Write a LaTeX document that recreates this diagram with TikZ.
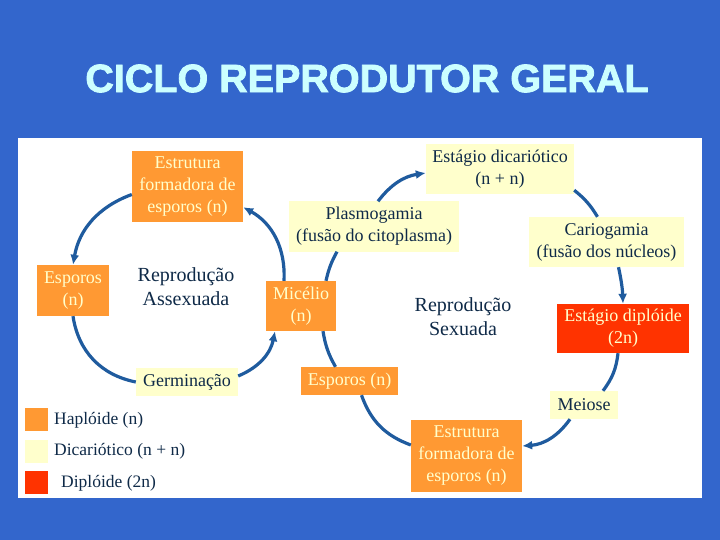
\documentclass[tikz,border=0pt]{standalone}
\usepackage{fontspec}
\setmainfont{Liberation Serif}
\newfontfamily\titlefont{Liberation Sans}[BoldFeatures={FakeBold=2}]
\usetikzlibrary{arrows.meta}
\definecolor{bgblue}{HTML}{3366CC}
\definecolor{hapcol}{HTML}{FF9933}
\definecolor{dikcol}{HTML}{FFFFCC}
\definecolor{dipcol}{HTML}{FF3300}
\definecolor{navytxt}{HTML}{0F2A48}
\definecolor{arrcol}{HTML}{1F5B9E}
\definecolor{titlecol}{HTML}{CCFFFF}
\begin{document}
\begin{tikzpicture}[x=1pt,y=-1pt,
  box/.style={inner sep=0pt, align=center, font=\fontsize{18}{22}\selectfont},
  hap/.style={box, fill=hapcol, text=dikcol},
  dik/.style={box, fill=dikcol, text=navytxt},
  dip/.style={box, fill=dipcol, text=dikcol},
  big/.style={align=center, text=navytxt, font=\fontsize{20}{24}\selectfont},
  legsq/.style={minimum width=23pt, minimum height=23pt, inner sep=0pt},
  legtxt/.style={anchor=west, text=navytxt, inner sep=0pt, font=\fontsize{17.5}{20}\selectfont},
  conn/.style={draw=arrcol, line width=3.2pt},
  arr/.style={conn, -{Latex[length=10pt,width=9pt]}}
]
\useasboundingbox (0,0) rectangle (720,540);
\fill[bgblue] (0,0) rectangle (720,540);
\fill[white] (18,138) rectangle (702,498);

\node[font=\titlefont\bfseries\fontsize{39.5}{40}\selectfont, text=titlecol] (title) at (367,78.5) {CICLO REPRODUTOR GERAL};

% asexual cycle
\node[hap, minimum width=111pt, minimum height=71pt] (estA) at (187.5,186.5) {Estrutura\\formadora de\\esporos (n)};
\node[hap, minimum width=72pt, minimum height=51pt] (espA) at (73,290.5) {Esporos\\(n)};
\node[big] (repA) at (186,287) {Reprodução\\Assexuada};
\node[hap, minimum width=70pt, minimum height=50pt] (mic) at (301,306) {Micélio\\(n)};
\node[dik, minimum width=102pt, minimum height=28pt] (germ) at (187,382) {Germinação};

% sexual cycle
\node[dik, minimum width=170pt, minimum height=50pt] (plas) at (374,226.5) {Plasmogamia\\(fusão do citoplasma)};
\node[dik, minimum width=148pt, minimum height=50pt] (dic) at (500,169) {Estágio dicariótico\\(n + n)};
\node[dik, minimum width=155pt, minimum height=50pt] (cario) at (606.5,242) {Cariogamia\\(fusão dos núcleos)};
\node[big] (repS) at (463,317) {Reprodução\\Sexuada};
\node[dip, minimum width=132pt, minimum height=49pt] (dipl) at (623,328.5) {Estágio diplóide\\(2n)};
\node[dik, minimum width=68pt, minimum height=28pt] (mei) at (584,405) {Meiose};
\node[hap, minimum width=111pt, minimum height=72pt] (estB) at (466.5,456) {Estrutura\\formadora de\\esporos (n)};
\node[hap, minimum width=97pt, minimum height=28pt] (espB) at (349.5,381) {Esporos (n)};

% legend
\node[legsq, fill=hapcol] (lg1) at (36.5,419.5) {};
\node[legsq, fill=dikcol] (lg2) at (36.5,451) {};
\node[legsq, fill=dipcol] (lg3) at (36.5,482.5) {};
\node[legtxt] (lt1) at (54,420) {Haplóide (n)};
\node[legtxt] (lt2) at (54,451.5) {Dicariótico (n + n)};
\node[legtxt] (lt3) at (61,483) {Diplóide (2n)};

% asexual connectors
\draw[arr] ([xshift=-17pt]mic.north) to[bend right=32] ([yshift=15pt]estA.south east);
\draw[arr] ([yshift=-8pt]estA.west) to[bend right=30] (espA.north);
\draw[conn] (espA.south) to[bend right=35] (germ.west);
\draw[arr] ([yshift=6pt]germ.east) to[bend right=28] ([xshift=-26pt]mic.south);

% sexual connectors
\draw[conn] ([xshift=25pt]mic.north) to[bend left=8] ([xshift=-37pt]plas.south);
\draw[arr] ([xshift=4pt]plas.north) to[bend left=22] ([yshift=-4pt]dic.west);
\draw[conn] ([yshift=4pt]dic.south east) to[bend left=10] ([xshift=-9pt]cario.north);
\draw[arr] ([xshift=12pt]cario.south) to[bend left=5] (dipl.north);
\draw[conn] ([xshift=-5pt]dipl.south) to[bend left=15] ([xshift=19pt]mei.north);
\draw[arr] ([xshift=-14pt]mei.south) to[bend left=25] ([yshift=10pt]estB.east);
\draw[conn] ([yshift=11pt]estB.west) to[bend left=25] ([xshift=12pt]espB.south);
\draw[conn] ([xshift=-14pt]espB.north) to[bend left=10] ([xshift=22pt]mic.south);
\end{tikzpicture}
\end{document}
